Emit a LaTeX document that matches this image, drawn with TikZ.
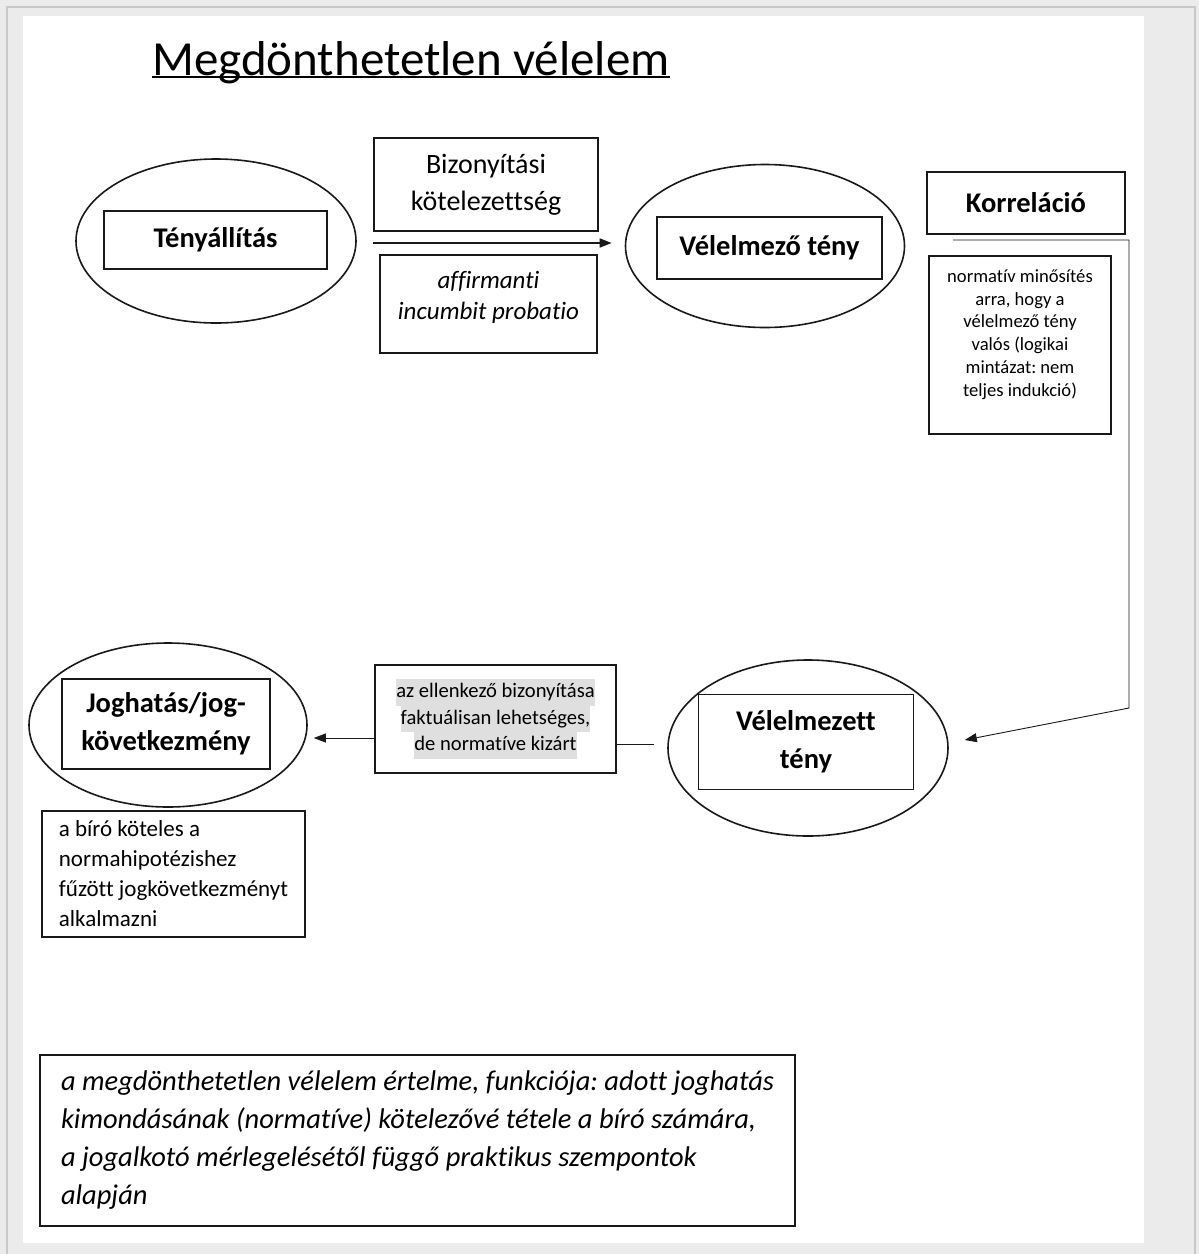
\documentclass[tikz,border=0pt]{standalone}
\usepackage{fontspec}
\setmainfont{Carlito}[Ligatures=NoCommon]
\usetikzlibrary{arrows.meta, positioning, shapes.geometric}
\definecolor{pagegray}{RGB}{235,235,235}
\definecolor{edgegray}{RGB}{200,200,200}
\definecolor{hl}{RGB}{223,223,223}
\definecolor{ink}{RGB}{25,25,25}
\setlength{\fboxsep}{0pt}
\frenchspacing

\begin{document}
\begin{tikzpicture}[x=1pt, y=-1pt,
    oval/.style = {draw=ink, ellipse, line width=1.6pt, inner sep=0pt},
    inbox/.style = {draw=ink, rectangle, line width=1.4pt, align=center, inner sep=0pt,
                    font=\fontsize{28.5}{38}\selectfont\bfseries},
    box/.style = {draw=ink, rectangle, line width=1.4pt, align=center, inner sep=0pt},
    link/.style = {draw=ink, line width=0.9pt},
    arr/.style = {link, -{Triangle[length=12pt,width=9pt]}}]
  \useasboundingbox (0,0) rectangle (1199,1254);
  % page
  \fill[pagegray] (0,0) rectangle (1199,1254);
  \draw[edgegray, line width=2pt] (7,1254) -- (7,7) -- (1195,7) -- (1195,1254);
  \fill[white] (23,16) rectangle (1144,1243);

  \node[anchor=base west, inner sep=0pt, font=\fontsize{49}{58}\selectfont] (title) at (152,75) {Megdönthetetlen vélelem};
  \draw[line width=2.5pt] ([yshift=-2pt]title.base west) -- ([yshift=-2pt]title.base east);

  % upper row
  \node[oval, minimum width=280, minimum height=164] (tell) at (216,241) {};
  \node[inbox, minimum width=223, minimum height=58] (tall) at (215.5,240) {Tényállítás};
  \node[box, minimum width=224, minimum height=93, font=\fontsize{28}{37}\selectfont] (biz) at (486,184.5) {Bizonyítási\\kötelezettség};
  \node[box, minimum width=217, minimum height=98] (aff) at (488.5,304) {};
  \node[anchor=north, align=center, inner sep=0pt, font=\fontsize{25}{31}\selectfont\itshape] (afftxt) at ([yshift=-17pt]aff.north)
    {affirmanti\\incumbit probatio};
  \node[oval, minimum width=279, minimum height=163] (vell) at (765,246) {};
  \node[inbox, minimum width=225, minimum height=62] (vmz) at (769.5,248) {Vélelmező tény};
  \node[inbox, minimum width=198, minimum height=62] (korr) at (1026,203) {Korreláció};
  \node[box, minimum width=182, minimum height=178] (norm) at (1020,345) {};
  \node[anchor=north, align=center, inner sep=0pt, font=\fontsize{18.6}{22.8}\selectfont] (normtxt) at ([yshift=-14pt]norm.north)
    {normatív minősítés\\arra, hogy a\\vélelmező tény\\valós (logikai\\mintázat: nem\\teljes indukció)};

  % lower row
  \node[oval, minimum width=280, minimum height=176] (vzell) at (808,748) {};
  \node[inbox, minimum width=215, minimum height=95] (vzt) at (806,742) {Vélelmezett\\tény};
  \node[box, minimum width=241, minimum height=108, font=\fontsize{20.6}{26.5}\selectfont] (ellen) at (495.5,719)
    {\colorbox{hl}{\strut az ellenkező bizonyítása}\\\colorbox{hl}{\strut faktuálisan lehetséges,}\\\colorbox{hl}{\strut de normatíve kizárt}};
  \node[oval, minimum width=278, minimum height=164] (jell) at (168,725) {};
  \node[inbox, minimum width=208, minimum height=90] (jog) at (166,724) {Joghatás/jog-\\következmény};
  \node[box, align=left, minimum width=263, minimum height=126, font=\fontsize{23}{30}\selectfont] (biro) at (173.5,874)
    {a bíró köteles a\\normahipotézishez\\fűzött jogkövetkezményt\\alkalmazni};

  \node[box, align=left, minimum width=755, minimum height=171, font=\fontsize{28.5}{38}\selectfont\itshape] (ertelme) at (417.5,1140.5)
    {a megdönthetetlen vélelem értelme, funkciója: adott joghatás\\kimondásának (normatíve) kötelezővé tétele a bíró számára,\\a jogalkotó mérlegelésétől függő praktikus szempontok\\alapján};

  % connectors
  \coordinate (kstart) at (953,240);
  \coordinate (kbend) at (1129,708);
  \draw[arr, line width=1.5pt] ([shift={(16pt,-2pt)}]tell.east) -- ([shift={(-13pt,3pt)}]vell.west);
  \draw[arr] (kstart) -| (kbend) -- ([shift={(16pt,8pt)}]vzell.east);
  \draw[link] ([shift={(-13pt,4pt)}]vzell.west) -- ([yshift=-25pt]ellen.east);
  \draw[arr] ([yshift=-19pt]ellen.west) -- ([shift={(6pt,-13pt)}]jell.east);
\end{tikzpicture}
\end{document}
